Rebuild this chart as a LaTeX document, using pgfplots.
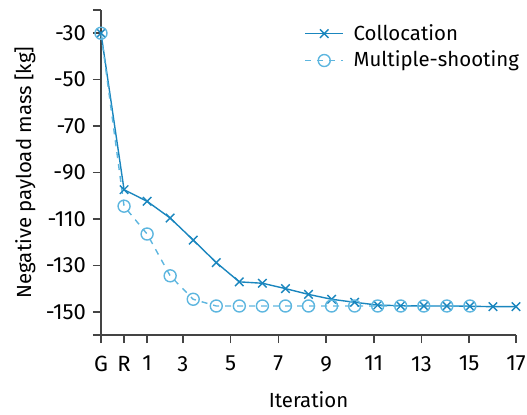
\documentclass[border=0pt]{standalone}
\usepackage{fontspec}
\setmainfont{Fira Sans}
\usepackage{pgfplots}
\pgfplotsset{compat=1.18}
\usetikzlibrary{calc}
\definecolor{colloc}{HTML}{1A86BE}
\definecolor{mshoot}{HTML}{5DB6DF}
\definecolor{axgray}{HTML}{444444}
\begin{document}
\fontsize{10}{12}\selectfont
\begin{tikzpicture}
\begin{axis}[
  name=ax,
  scale only axis,
  width=207.5pt, height=162.5pt,
  xmin=0, xmax=18, ymin=-160, ymax=-20,
  axis lines*=left,
  axis line style={axgray, line width=0.8pt},
  every tick/.style={axgray, line width=0.8pt},
  tick align=outside,
  major tick length=4pt,
  xtick={0,1,2,3.55,5.62,7.69,9.76,11.83,13.9,15.97,18},
  xticklabels={G,R,1,3,5,7,9,11,13,15,17},
  ytick={-30,-50,-70,-90,-110,-130,-150},
  extra y ticks={-20,-160},
  extra y tick labels={},
  /pgf/number format/assume math mode=true,
  tick label style={font=\fontsize{11}{13}\selectfont},
  xticklabel style={anchor=north, yshift=-3pt},
  xlabel={Iteration},
  ylabel={Negative payload mass [kg]},
  label style={font=\fontsize{10.2}{12}\selectfont},
  xlabel style={at={(axis description cs:0.5,0)}, anchor=center, yshift=-32.5pt},
  ylabel style={at={(axis description cs:-0.183,0.5)}, anchor=center},
  legend style={draw=none, fill=none, at={(0.49,0.97)}, anchor=north west,
    inner sep=0pt, font=\fontsize{10.2}{12}\selectfont, row sep=0pt,
    /tikz/every odd column/.append style={column sep=3pt}},
  legend cell align=left,
  legend image code/.code={%
    \draw[mark repeat=2,mark phase=2] plot coordinates {(0cm,0cm)(0.33cm,0cm)(0.66cm,0cm)};},
  clip=false,
]
\addplot[colloc, line width=0.7pt, mark=x, mark size=3pt] coordinates {
  (0,-30)(1,-97.4)(2,-102.4)(3,-109.6)(4,-119.1)(5,-128.8)(6,-137.1)
  (7,-137.7)(8,-140.0)(9,-142.5)(10,-144.6)(11,-145.9)(12,-147.1)
  (13,-147.4)(14,-147.5)(15,-147.5)(16,-147.6)(17,-147.8)(18,-147.8)
};
\addlegendentry{Collocation}
\addplot[mshoot, line width=0.7pt, dashed, mark=o, mark size=3pt,
  mark options={solid}] coordinates {
  (0,-30)(1,-104.5)(2,-116.5)(3,-134.5)(4,-144.6)(5,-147.5)(6,-147.5)
  (7,-147.5)(8,-147.5)(9,-147.5)(10,-147.5)(11,-147.5)(12,-147.5)
  (13,-147.5)(14,-147.5)(15,-147.5)(16,-147.5)
};
\addlegendentry{Multiple-shooting}
\end{axis}
\pgfresetboundingbox
\path ($(ax.south west)+(-50.5pt,-39.5pt)$) rectangle ($(ax.north east)+(5.5pt,5pt)$);
\end{tikzpicture}
\end{document}
